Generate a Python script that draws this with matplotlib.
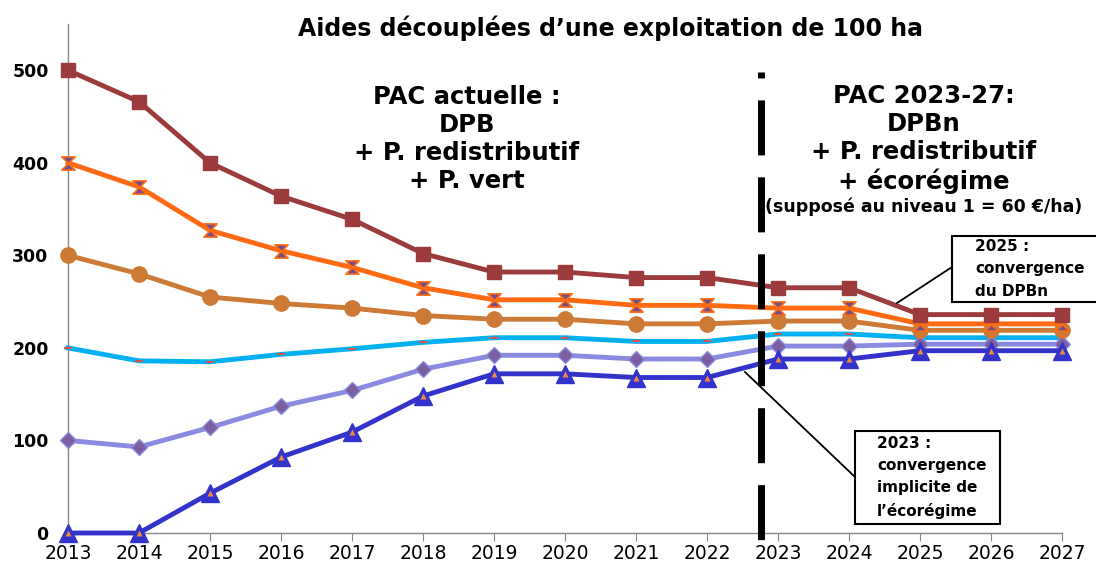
import numpy as np
import matplotlib.pyplot as plt
from matplotlib.path import Path

# ===== données =====
years = list(range(2013, 2028))

s_brun = [500, 466, 400, 364, 339, 302, 282, 282, 276, 276, 265, 265, 236, 236, 236]
s_orange = [400, 374, 327, 305, 287, 265, 252, 252, 246, 246, 243, 243, 226, 226, 226]
s_ocre = [300, 280, 255, 248, 243, 235, 231, 231, 226, 226, 229, 229, 219, 219, 219]
s_cyan = [200, 186, 185, 193, 199, 206, 211, 211, 207, 207, 215, 215, 211, 211, 211]
s_lavande = [100, 93, 114, 137, 154, 177, 192, 192, 188, 188, 202, 202, 204, 204, 204]
s_bleu = [0, 0, 43, 82, 109, 148, 172, 172, 168, 168, 188, 188, 197, 197, 197]

y_ticks = [0, 100, 200, 300, 400, 500]
x_sep = 2022.76  # séparation PAC actuelle / PAC 2023-27

plt.rcParams['font.family'] = ['DejaVu Sans']
plt.rcParams['lines.scale_dashes'] = False

W, H = 1096, 565
fig = plt.figure(figsize=(W / 100, H / 100), dpi=100)
ax = fig.add_axes([68 / W, 32 / H, (1062 - 68) / W, (533 - 24) / H])

def fx(px):
    return px / W

def fy(py):
    return 1 - py / H

# marqueur "sablier"
hourglass = Path([(-1, 1), (1, 1), (-1, -1), (1, -1), (-1, 1)],
                 [Path.MOVETO, Path.LINETO, Path.LINETO, Path.LINETO, Path.CLOSEPOLY])

lw = 3.5
kw = dict(clip_on=False)
ax.plot(years, s_brun, color="#9b3b3b", lw=lw, marker="s", ms=10.5, zorder=6, **kw)
ax.plot(years, s_orange, color="#ff6a13", lw=lw, marker=hourglass, ms=9.5,
        mfc="#6d4f8e", mec="#ff6a13", mew=1.2, zorder=5, **kw)
ax.plot(years, s_ocre, color="#cc7a35", lw=lw, marker="o", ms=11, zorder=4, **kw)
ax.plot(years, s_cyan, color="#00b0f0", lw=lw, marker="_", ms=6,
        mec="#d9534f", mew=1.5, zorder=3, **kw)
ax.plot(years, s_lavande, color="#8a8ae0", lw=lw, marker="D", ms=8.5,
        mfc="#7b5fa0", mec="#8a8ae0", mew=1, zorder=3, **kw)
ax.plot(years, s_bleu, color="#3333cc", lw=lw, marker="^", ms=13,
        mfc="#3333cc", mec="#3333cc", zorder=4, **kw)
ax.plot(years, s_bleu, ls="none", marker="^", ms=5, mfc="#f08a3c",
        mec="none", zorder=4.5, **kw)

# ligne de séparation (tirets longs)
ax.plot([x_sep, x_sep], [498, -9.7], color="black", lw=5,
        ls=(35.3, (39.6, 15.8)), clip_on=False, zorder=7,
        dash_capstyle="butt")

ax.set_xlim(2013, 2027)
ax.set_ylim(0, 550)
ax.set_xticks(years)
ax.set_yticks(y_ticks)
ax.tick_params(axis="x", length=6, color="#888888", labelsize=13.5, pad=2)
ax.tick_params(axis="y", length=0, labelsize=12.5, pad=14)
for lab in ax.get_yticklabels():
    lab.set_fontweight("bold")
for side in ["top", "right"]:
    ax.spines[side].set_visible(False)
for side in ["left", "bottom"]:
    ax.spines[side].set_color("#888888")
    ax.spines[side].set_linewidth(1)

fig.text(fx(610), fy(28), "Aides découplées d’une exploitation de 100 ha",
         ha="center", va="center", fontsize=17, fontweight="bold")

fig.text(fx(467), fy(139), "PAC actuelle :\nDPB\n+ P. redistributif\n+ P. vert",
         ha="center", va="center", fontsize=17.5, fontweight="bold", linespacing=1.22)
fig.text(fx(924), fy(139), "PAC 2023-27:\nDPBn\n+ P. redistributif\n+ écorégime",
         ha="center", va="center", fontsize=17.5, fontweight="bold", linespacing=1.22)
fig.text(fx(924), fy(207), "(supposé au niveau 1 = 60 €/ha)",
         ha="center", va="center", fontsize=12.5, fontweight="bold")

# encadrés et traits de rappel
def encadre(x0, y0, x1, y1, txt, tx):
    r = plt.Rectangle((fx(x0), fy(y1)), (x1 - x0) / W, (y1 - y0) / H,
                      transform=fig.transFigure, fc="white", ec="black", lw=1.5,
                      zorder=10, clip_on=False)
    fig.add_artist(r)
    fig.text(fx(tx), fy((y0 + y1) / 2), txt, ha="left", va="center",
             fontsize=11, fontweight="bold", linespacing=1.6, zorder=11)

def trait(x0, y0, x1, y1):
    fig.add_artist(plt.Line2D([fx(x0), fx(x1)], [fy(y0), fy(y1)],
                              transform=fig.transFigure, color="black", lw=1.3, zorder=9))

trait(952, 267, 897, 303)
encadre(952, 236, 1100, 302, "2025 :\nconvergence\ndu DPBn", 975)
trait(855, 477, 745, 372)
encadre(855, 431, 1000, 524, "2023 :\nconvergence\nimplicite de\nl’écorégime", 877)

fig.savefig("out.png", dpi=100)
